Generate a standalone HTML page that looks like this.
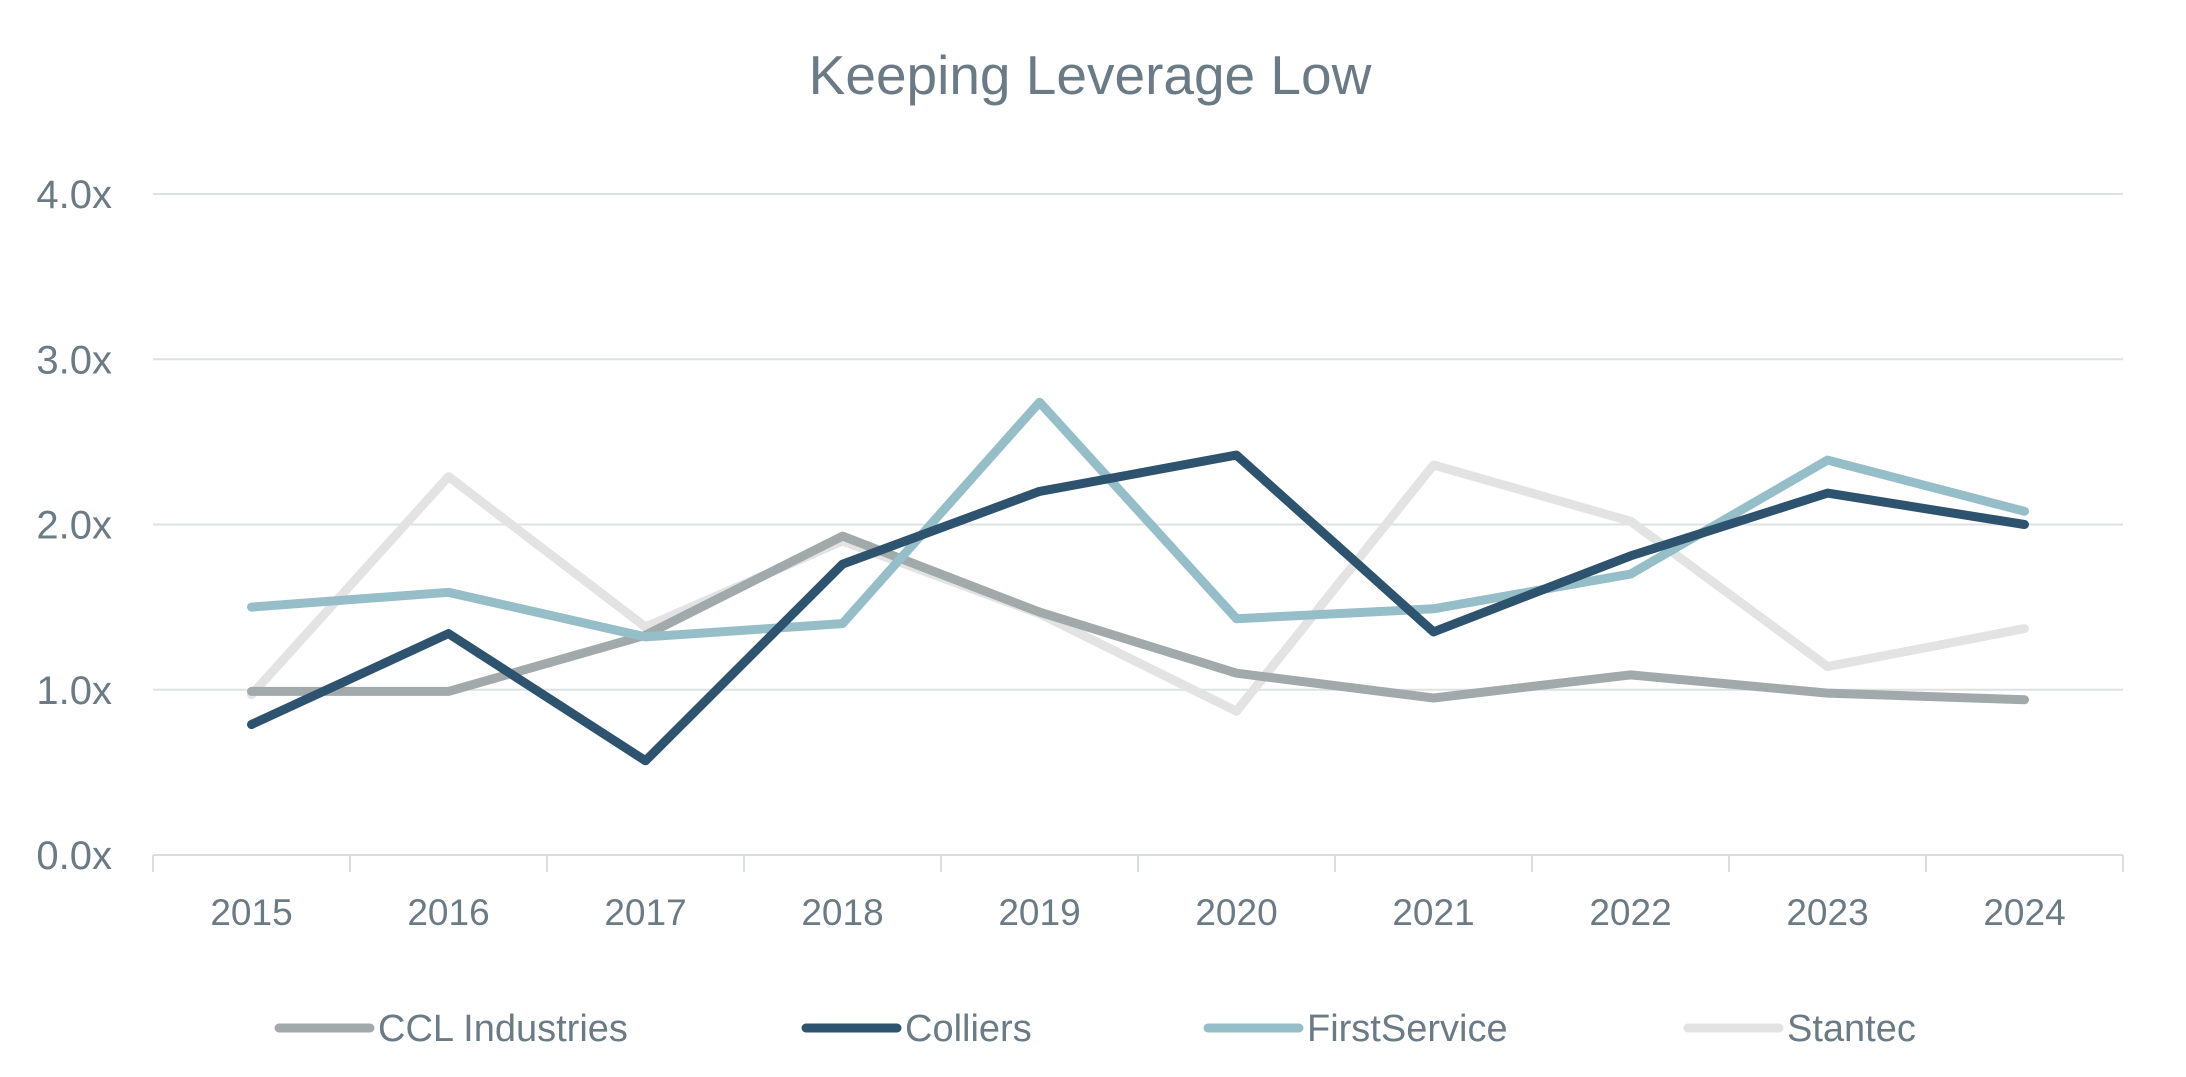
<!DOCTYPE html>
<html><head><meta charset="utf-8"><style>
html,body{margin:0;padding:0;background:#fff;}
svg{display:block;font-family:"Liberation Sans",sans-serif;}
</style></head><body>
<svg id="chart" width="2186" height="1077" viewBox="0 0 2186 1077">
<text x="1090" y="94" text-anchor="middle" font-size="55" fill="#6b7b85">Keeping Leverage Low</text>
<g id="grid"></g><g id="axes"></g><g id="series"></g><g id="legend"></g>
</svg>
<script>
const categories = ["2015","2016","2017","2018","2019","2020","2021","2022","2023","2024"];
const yTicks = [0,1,2,3,4];
const yTickLabels = ["0.0x","1.0x","2.0x","3.0x","4.0x"];
const seriesNames = ["CCL Industries","Colliers","FirstService","Stantec"];
const cclValues = [0.99,0.99,1.33,1.93,1.47,1.10,0.95,1.09,0.98,0.94];
const colliersValues = [0.79,1.34,0.57,1.76,2.20,2.42,1.35,1.81,2.19,2.00];
const firstServiceValues = [1.50,1.59,1.32,1.40,2.74,1.43,1.49,1.70,2.39,2.08];
const stantecValues = [0.97,2.29,1.38,1.90,1.46,0.87,2.36,2.02,1.14,1.37];

const NS="http://www.w3.org/2000/svg";
const L=153,R=2123,T=194,B=855,yMax=4;
const band=(R-L)/categories.length;
const xS=i=>L+band*(i+0.5);
const yS=v=>B-(v/yMax)*(B-T);
function mk(tag,attrs,parent){const e=document.createElementNS(NS,tag);for(const k in attrs)e.setAttribute(k,attrs[k]);parent.appendChild(e);return e;}
const grid=document.getElementById('grid'),axes=document.getElementById('axes'),ser=document.getElementById('series'),leg=document.getElementById('legend');
yTicks.forEach((t,i)=>{
  if(t>0){const g=mk('line',{x1:L,x2:R,y1:yS(t),y2:yS(t),stroke:'#dde2e2','stroke-width':2},grid);
  
  }
  const tx=mk('text',{x:112,y:yS(t)+14,'text-anchor':'end','font-size':40,fill:'#6b7b85'},axes);
  tx.textContent=yTickLabels[i];
  
  
});
const ax=mk('line',{x1:L,x2:R,y1:B,y2:B,stroke:'#d9dede','stroke-width':2},axes);


for(let i=0;i<=categories.length;i++){
  const tk=mk('line',{x1:L+band*i,x2:L+band*i,y1:B,y2:B+17,stroke:'#d9dede','stroke-width':2},axes);
  
  
}
categories.forEach((c,i)=>{
  const tx=mk('text',{x:xS(i),y:925,'text-anchor':'middle','font-size':37,fill:'#6b7b85'},axes);
  tx.textContent=c;
  
  
});
const allSeries=[cclValues,colliersValues,firstServiceValues,stantecValues];
const colors=['#a2a9aa','#2e536f','#96bec8','#e3e3e3'];
const drawOrder=[3,0,2,1];
drawOrder.forEach(s=>{
  const pts=allSeries[s].map((v,i)=>xS(i).toFixed(1)+','+yS(v).toFixed(1)).join(' ');
  const p=mk('polyline',{points:pts,fill:'none',stroke:colors[s],'stroke-width':9,'stroke-linecap':'round','stroke-linejoin':'round'},ser);
  
  
});
const legX=[279,806,1208,1688];
seriesNames.forEach((n,s)=>{
  const g=mk('g',{},leg);
  
  
  mk('line',{x1:legX[s],x2:legX[s]+91,y1:1028,y2:1028,stroke:colors[s],'stroke-width':9,'stroke-linecap':'round'},g);
  const t=mk('text',{x:legX[s]+99,y:1041,'font-size':38,fill:'#6b7b85'},g);
  t.textContent=n;
});
</script>
</body></html>
